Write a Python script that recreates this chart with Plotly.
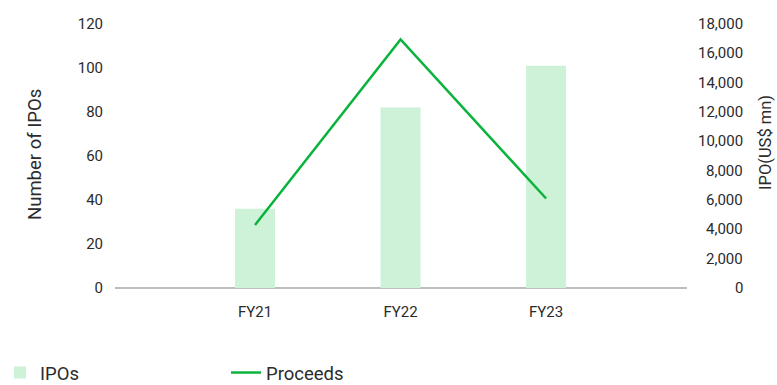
import plotly.graph_objects as go

# Fiscal years and IPO market figures
years = ["FY21", "FY22", "FY23"]
ipo_counts = [36, 82, 101]
proceeds_usd_mn = [4300, 16950, 6100]

left_ticks = [0, 20, 40, 60, 80, 100, 120]
right_ticks = [0, 2000, 4000, 6000, 8000, 10000, 12000, 14000, 16000, 18000]
right_tick_labels = ["0", "2,000", "4,000", "6,000", "8,000", "10,000",
                     "12,000", "14,000", "16,000", "18,000"]

W, H = 777, 385
L, R, T, B = 115, 90, 24, 97
plot_w = W - L - R
plot_h = H - T - B

FONT = "Roboto"
TEXT = "#2b2b2b"


def px_to_paper_x(px):
    return (px - L) / plot_w


def px_to_paper_y(py):
    return (H - B - py) / plot_h


fig = go.Figure()

fig.add_trace(go.Bar(
    x=years, y=ipo_counts, name="IPOs",
    marker=dict(color="#cdf2d8", line=dict(width=0)),
    width=0.275, yaxis="y",
))

fig.add_trace(go.Scatter(
    x=years, y=proceeds_usd_mn, name="Proceeds", mode="lines",
    line=dict(color="#0ab43c", width=2.5), yaxis="y2",
))

fig.update_layout(
    width=W, height=H,
    margin=dict(l=L, r=R, t=T, b=B, autoexpand=False),
    paper_bgcolor="white", plot_bgcolor="white",
    font=dict(family=FONT, color=TEXT, size=15),
    showlegend=True,
    legend=dict(
        orientation="h", x=px_to_paper_x(0), xanchor="left",
        y=px_to_paper_y(373), yanchor="middle",
        font=dict(size=18.5, family=FONT, color=TEXT),
        entrywidth=181, entrywidthmode="pixels",
        itemwidth=30, traceorder="normal",
    ),
    xaxis=dict(
        type="category", range=[-0.962, 2.968],
        showgrid=False, zeroline=False, showline=False,
        ticks="", tickfont=dict(size=15, family=FONT, color=TEXT),
        ticklabelstandoff=13,
    ),
    yaxis=dict(
        range=[0, 120], tickvals=left_ticks,
        showgrid=False, zeroline=True, zerolinecolor="#bdbdbd", zerolinewidth=1.5,
        showline=False, ticks="",
        tickfont=dict(size=15, family=FONT, color=TEXT),
        ticklabelstandoff=11,
    ),
    yaxis2=dict(
        range=[0, 18000], tickvals=right_ticks,
        overlaying="y", side="right",
        showgrid=False, zeroline=False, showline=False,
        showticklabels=False, ticks="",
    ),
)

# Right-axis tick labels, right-aligned at a common edge
for v, lab in zip(right_ticks, right_tick_labels):
    fig.add_annotation(
        x=px_to_paper_x(745), xref="paper", xanchor="right",
        y=v, yref="y2", yanchor="middle",
        text=lab, showarrow=False,
        font=dict(size=15, family=FONT, color=TEXT),
    )

# Axis titles
fig.add_annotation(
    x=px_to_paper_x(35), xref="paper", xanchor="center",
    y=px_to_paper_y(155), yref="paper", yanchor="middle",
    text="Number of IPOs", textangle=-90, showarrow=False,
    font=dict(size=18.5, family=FONT, color=TEXT),
)
fig.add_annotation(
    x=px_to_paper_x(765), xref="paper", xanchor="center",
    y=px_to_paper_y(143), yref="paper", yanchor="middle",
    text="IPO(US$ mn)", textangle=-90, showarrow=False,
    font=dict(size=16.5, family=FONT, color=TEXT),
)

fig.write_html("out.html")
